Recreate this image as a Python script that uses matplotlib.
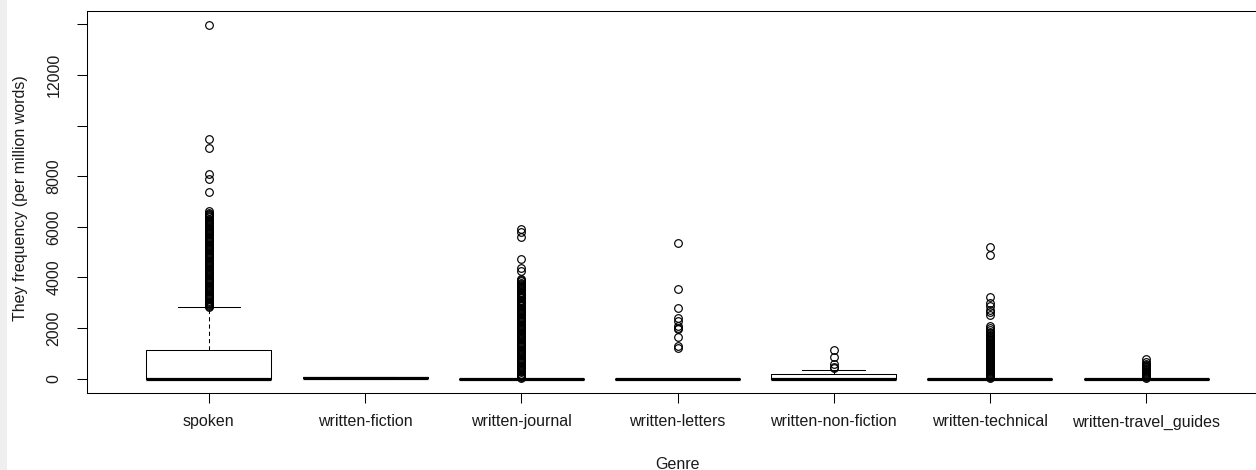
import matplotlib.pyplot as plt
from matplotlib.patches import Rectangle

plt.rcParams['font.family'] = ['Liberation Sans', 'DejaVu Sans']

# genres and the box summaries
genres = ['spoken', 'written-fiction', 'written-journal', 'written-letters',
          'written-non-fiction', 'written-technical', 'written-travel_guides']
medians = [0, 40, 0, 0, 0, 0, 0]
q1 = [0, 28, 0, 0, 0, 0, 0]
q3 = [1134, 52, 0, 0, 174, 0, 0]
whis_lo = [0, 28, 0, 0, 0, 0, 0]
whis_hi = [2822, 52, 0, 0, 360, 0, 0]

# outliers (dense runs listed as read, top to bottom)
spoken_out = [13980, 9470, 9130, 8090, 7890, 7370, 6640,
              6550, 6510, 6470, 6420, 6380, 6330, 6290, 6240, 6200, 6150, 6110, 6060,
              6020, 5970, 5930, 5880, 5840, 5790, 5750, 5700, 5660, 5610, 5570, 5520,
              5480, 5430, 5390, 5340, 5300, 5250, 5210, 5160, 5120, 5070, 5030, 4980,
              4940, 4890, 4850, 4800, 4760, 4710, 4670, 4620, 4580, 4530, 4490, 4440,
              4400, 4350, 4310, 4260, 4220, 4170, 4130, 4080, 4040, 3990, 3950, 3900,
              3860, 3810, 3770, 3720, 3680, 3630, 3590, 3540, 3500, 3450, 3410, 3360,
              3320, 3270, 3230, 3180, 3140, 3090, 3050, 3000, 2960, 2910, 2870, 2840]
fiction_out = []
journal_out = [5900, 5810, 5600, 4720, 4360, 4270,
               3930, 3890, 3850, 3800, 3760, 3710, 3670, 3620, 3580, 3530, 3490, 3440,
               3400, 3350, 3310, 3260, 3220, 3170, 3130, 3080, 3040, 2990, 2950, 2900,
               2860, 2810, 2770, 2720, 2680, 2630, 2590, 2540, 2500, 2450, 2410, 2360,
               2320, 2270, 2230, 2180, 2140, 2090, 2050, 2000, 1960, 1910, 1870, 1820,
               1780, 1730, 1690, 1640, 1600, 1550, 1510, 1460, 1420, 1370, 1330, 1280,
               1240, 1190, 1150, 1100, 1060, 1010, 970, 920, 880, 830, 790, 740, 700,
               650, 610, 560, 520, 470, 430, 380, 340, 290, 250, 200, 160, 110, 70, 30]
letters_out = [5380, 3530, 2810, 2390, 2290, 2100, 1990, 1950, 1640, 1300, 1225]
nonfiction_out = [1135, 845, 570, 475, 410]
technical_out = [5220, 4890, 3220, 2980, 2870, 2720, 2640, 2520, 2080, 1990, 1930,
                 1860, 1800, 1730, 1690, 1650, 1610, 1570, 1530, 1490, 1450, 1410,
                 1370, 1330, 1290, 1250, 1210, 1170, 1130, 1090, 1050, 1010, 970, 930,
                 890, 850, 810, 770, 730, 690, 650, 610, 570, 530, 490, 450, 410, 370,
                 330, 290, 250, 210, 170, 130, 90, 50, 20]
travel_out = [770, 650, 600, 560, 520, 480, 440, 400, 360, 320, 280, 240, 200, 160,
              120, 80, 40]
fliers = [spoken_out, fiction_out, journal_out, letters_out, nonfiction_out,
          technical_out, travel_out]

yticks = [0, 2000, 4000, 6000, 8000, 10000, 12000, 14000]
ytick_labels = ['0', '2000', '4000', '6000', '8000', '', '12000', '']

stats = []
for i, g in enumerate(genres):
    stats.append(dict(label=g, med=medians[i], q1=q1[i], q3=q3[i],
                      whislo=whis_lo[i], whishi=whis_hi[i], fliers=fliers[i]))

fig = plt.figure(figsize=(12.56, 4.70), dpi=100)
fig.patches.append(Rectangle((0, 0), 7 / 1256, 1, transform=fig.transFigure,
                             facecolor='#efefef', edgecolor='none'))
ax = fig.add_axes([87 / 1256, (470 - 393.3) / 470, 1181 / 1256, 382.3 / 470])

ax.bxp(stats, positions=range(1, len(genres) + 1), widths=0.8, capwidths=0.4,
       boxprops=dict(color='black', linewidth=0.75),
       medianprops=dict(color='black', linewidth=2.3, solid_capstyle='butt'),
       whiskerprops=dict(color='black', linewidth=0.75, linestyle=(0, (4, 3))),
       capprops=dict(color='black', linewidth=0.75),
       flierprops=dict(marker='o', markerfacecolor='none', markeredgecolor='black',
                       markersize=5.5, markeredgewidth=0.85))

ax.set_xlim(0.22, 7.78)
ax.set_ylim(-577, 14533)
ax.set_yticks(yticks)
ax.set_yticklabels(ytick_labels, rotation=90, va='center')
ax.tick_params(axis='both', length=7.2, width=0.75, color='black',
               labelsize=11.5, labelcolor='#1a1a1a')
ax.tick_params(axis='y', pad=11)
ax.tick_params(axis='x', pad=8)

ax.set_xlabel('Genre', fontsize=11.5, color='#1a1a1a')
ax.set_ylabel('They frequency (per million words)', fontsize=11.5, color='#1a1a1a')
ax.yaxis.set_label_coords(-0.050, 0.51)
ax.xaxis.set_label_coords(0.5, -0.166)

for s in ax.spines.values():
    s.set_linewidth(0.75)
    s.set_color('black')

fig.savefig('out.png', dpi=100)
